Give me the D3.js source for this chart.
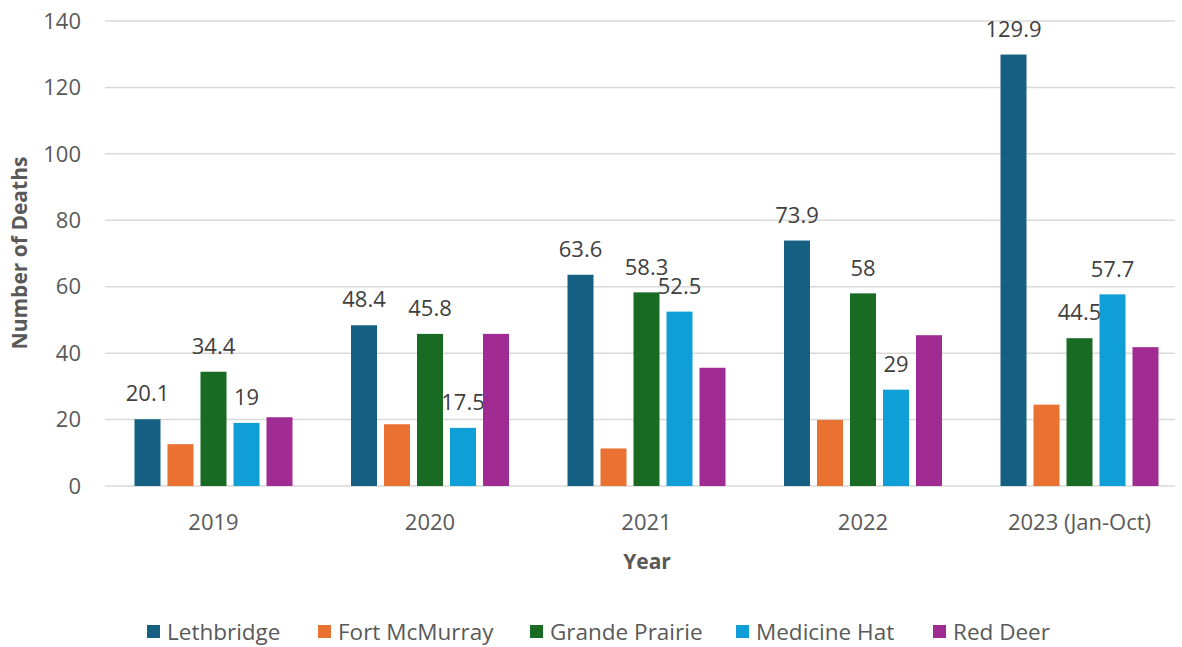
<!DOCTYPE html>
<html><head><meta charset="utf-8">
<script src="https://cdn.jsdelivr.net/npm/d3@7"></script>
<style>body{margin:0;background:#fff;} text{font-family:"Open Sans","Noto Sans",sans-serif;}</style>
</head><body><svg id="c" width="1182" height="647"></svg>
<script>
const years = ["2019","2020","2021","2022","2023 (Jan-Oct)"];
const seriesNames = ["Lethbridge","Fort McMurray","Grande Prairie","Medicine Hat","Red Deer"];
const colors = ["#156082","#E97132","#196B24","#0F9ED5","#A02B93"];
const lethbridge = [20.1,48.4,63.6,73.9,129.9];
const fortMcMurray = [12.6,18.6,11.3,19.9,24.5];
const grandePrairie = [34.4,45.8,58.3,58,44.5];
const medicineHat = [19,17.5,52.5,29,57.7];
const redDeer = [20.7,45.8,35.6,45.4,41.8];
const showLabel = [true,false,true,true,false];
const yTicks = [0,20,40,60,80,100,120,140];
const series = [lethbridge,fortMcMurray,grandePrairie,medicineHat,redDeer];

(function(){
const svg = d3.select("#c");
const pLeft=105,pRight=1175,pTop=21,pBottom=486;
const x0 = d3.scaleBand().domain(years).range([105.25,105.25+5*216.5]).paddingInner(0).paddingOuter(0);
const y = d3.scaleLinear().domain([0,140]).range([pBottom,pTop]);
const bw = 26, step = 33;
const x1 = d3.scaleBand().domain(seriesNames).range([-(4*step+bw)/2,(4*step+bw)/2]).paddingInner(7/33).paddingOuter(0);
const cx = d => x0(d)+x0.bandwidth()/2;

svg.append("g").selectAll("line").data(yTicks).join("line")
  .attr("x1",pLeft).attr("x2",pRight).attr("y1",d=>y(d)).attr("y2",d=>y(d))
  .attr("stroke","#D9D9D9").attr("stroke-width",1.5);
svg.append("g").selectAll("text").data(yTicks).join("text")
  .attr("x",81).attr("y",d=>y(d)).attr("dy","0.35em").attr("text-anchor","end")
  .attr("font-size",22).attr("fill","#595959").text(d=>d);
svg.append("g").selectAll("text").data(years).join("text")
  .attr("x",d=>cx(d)).attr("y",522).attr("dy","0.35em").attr("text-anchor","middle")
  .attr("font-size",22).attr("fill","#595959").text(d=>d);

series.forEach((vals,si)=>{
  const g = svg.append("g");
  g.selectAll("rect").data(vals).join("rect")
    .attr("x",(d,i)=>cx(years[i])+x1(seriesNames[si]))
    .attr("width",x1.bandwidth())
    .attr("y",d=>y(d)).attr("height",d=>y(0)-y(d))
    .attr("fill",colors[si]);
  if(showLabel[si]){
    g.selectAll("text").data(vals).join("text")
      .attr("x",(d,i)=>cx(years[i])+x1(seriesNames[si])+x1.bandwidth()/2)
      .attr("y",d=>y(d)-25.5).attr("dy","0.35em").attr("text-anchor","middle")
      .attr("font-size",22).attr("fill","#404040").text(d=>d);
  }
});

svg.append("text").attr("transform","translate(20,253) rotate(-90)").attr("text-anchor","middle").attr("dy","0.35em")
  .attr("font-size",21).attr("font-weight","bold").attr("fill","#595959").text("Number of Deaths");
svg.append("text").attr("x",647).attr("y",562).attr("dy","0.35em").attr("text-anchor","middle")
  .attr("font-size",21).attr("font-weight","bold").attr("fill","#595959").text("Year");

const legX = [147,318,530,736,933];
const lg = svg.append("g").selectAll("g").data(seriesNames).join("g")
  .attr("transform",(d,i)=>`translate(${legX[i]},632)`);
lg.append("rect").attr("x",0).attr("y",-7).attr("width",13).attr("height",13).attr("fill",(d,i)=>colors[i]);
lg.append("text").attr("x",20).attr("y",0).attr("dy","0.35em").attr("font-size",22.5).attr("fill","#595959").text(d=>d);
})();
</script></body></html>
